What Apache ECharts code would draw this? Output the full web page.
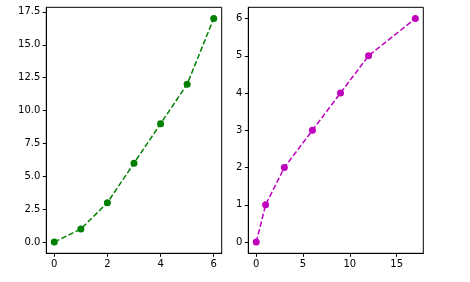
<!DOCTYPE html>
<html><head><meta charset="utf-8">
<script src="https://cdn.jsdelivr.net/npm/echarts@6/dist/echarts.min.js"></script>
<style>html,body{margin:0;padding:0;background:#fff}#c{width:470px;height:282px}</style>
</head><body><div id="c"></div>
<script>
const leftX = [0, 1, 2, 3, 4, 5, 6];
const leftY = [0, 1, 3, 6, 9, 12, 17];
const rightX = [0, 1, 3, 6, 9, 12, 17];
const rightY = [0, 1, 2, 3, 4, 5, 6];
const leftXTicks = [0, 2, 4, 6];
const leftYTicks = [0, 2.5, 5, 7.5, 10, 12.5, 15, 17.5];
const rightXTicks = [0, 5, 10, 15];
const rightYTicks = [0, 1, 2, 3, 4, 5, 6];

function pad(arr){const mn=Math.min(...arr),mx=Math.max(...arr),m=(mx-mn)*0.05;return [mn-m,mx+m];}
const font = {fontFamily:'DejaVu Sans', fontSize:10, color:'#000'};
function axis(grid, pos, range, ticks, fmt){
  return {type:'value', gridIndex:grid, position:pos, min:range[0], max:range[1],
    axisLine:{show:true, onZero:false, lineStyle:{color:'#000', width:1}},
    axisTick:{show:true, length:3.5, customValues:ticks, lineStyle:{color:'#000', width:1}},
    axisLabel:Object.assign({show:true, margin:6, customValues:ticks, formatter:fmt}, font),
    splitLine:{show:false}};
}
const chart = echarts.init(document.getElementById('c'), null, {renderer:'canvas'});
chart.setOption({
  animation:false,
  grid:[
    {left:46.3, top:7.3, width:175.4, height:246, show:true, borderColor:'#000', borderWidth:1},
    {left:248.3, top:7.3, width:175, height:246, show:true, borderColor:'#000', borderWidth:1}
  ],
  xAxis:[
    axis(0,'bottom',pad(leftX),leftXTicks,v=>String(v)),
    axis(1,'bottom',pad(rightX),rightXTicks,v=>String(v))
  ],
  yAxis:[
    axis(0,'left',pad(leftY),leftYTicks,v=>v.toFixed(1)),
    axis(1,'left',pad(rightY),rightYTicks,v=>String(v))
  ],
  series:[
    {type:'line', xAxisIndex:0, yAxisIndex:0, data:leftX.map((x,i)=>[x,leftY[i]]),
     symbol:'circle', symbolSize:7, itemStyle:{color:'#008000'},
     lineStyle:{color:'#008000', width:1.5, type:[5.5,2.4]}},
    {type:'line', xAxisIndex:1, yAxisIndex:1, data:rightX.map((x,i)=>[x,rightY[i]]),
     symbol:'circle', symbolSize:7, itemStyle:{color:'#bf00bf'},
     lineStyle:{color:'#bf00bf', width:1.5, type:[5.5,2.4]}}
  ]
});
</script></body></html>
